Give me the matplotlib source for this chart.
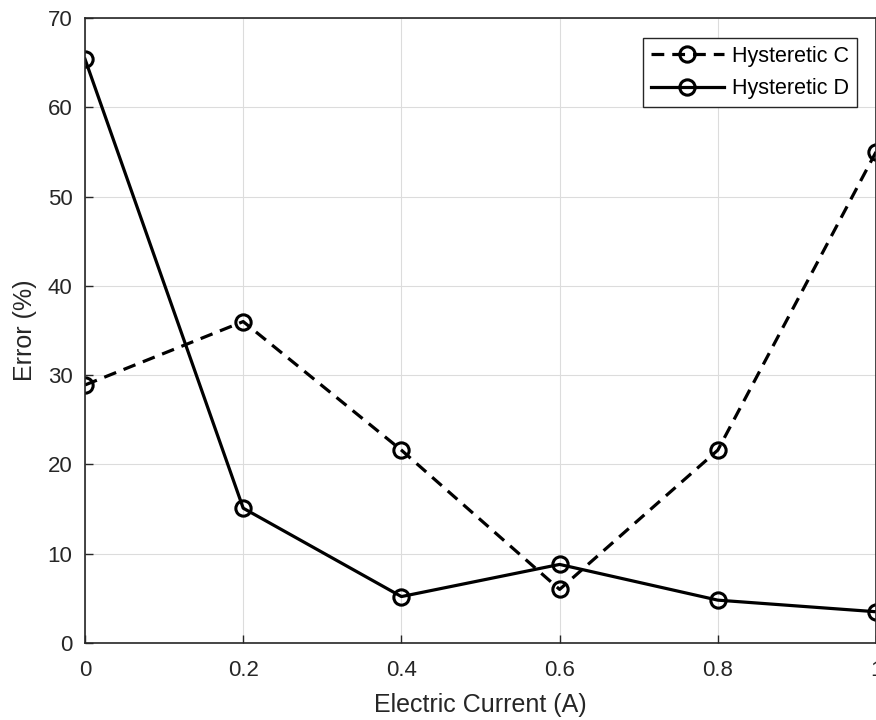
import matplotlib
matplotlib.use("Agg")
import matplotlib.pyplot as plt

plt.rcParams['font.family'] = ['Liberation Sans', 'DejaVu Sans']

current = [0, 0.2, 0.4, 0.6, 0.8, 1.0]
hyst_c = [28.9, 36.0, 21.6, 6.0, 21.6, 55.0]
hyst_d = [65.4, 15.1, 5.2, 8.8, 4.8, 3.5]

fig = plt.figure(figsize=(8.76, 7.2), dpi=100)
ax = fig.add_axes([85 / 876, 1 - 643 / 720, 1 - 85 / 876, (643 - 18) / 720])

mk = dict(marker='o', markersize=11, markerfacecolor='none',
          markeredgewidth=2.2, color='black', linewidth=2.3)
ax.plot(current, hyst_c, linestyle=(0, (4, 2.5)), label='Hysteretic C', **mk)
ax.plot(current, hyst_d, linestyle='-', label='Hysteretic D', **mk)

ax.set_xlim(0, 1)
ax.set_ylim(0, 70)
ax.set_xticks([0, 0.2, 0.4, 0.6, 0.8, 1])
ax.set_xticklabels(['0', '0.2', '0.4', '0.6', '0.8', '1'])
ax.set_yticks(range(0, 71, 10))
ax.grid(True, color='#dcdcdc', linewidth=0.8)
ax.set_axisbelow(True)
ax.tick_params(direction='in', length=6, width=1, labelsize=16, colors='#262626')
ax.tick_params(axis='x', pad=12)
ax.tick_params(axis='y', pad=9)
for s in ax.spines.values():
    s.set_color('#262626')
    s.set_linewidth(1.2)
ax.set_xlabel('Electric Current (A)', fontsize=18, color='#262626', labelpad=9)
ax.set_ylabel('Error (%)', fontsize=18, color='#262626', labelpad=8)

# legend box: right edge ~x=857px, top ~y=38px
leg = ax.legend(loc='upper right', bbox_to_anchor=((857 - 85) / 791, 1 - 20 / 625),
                fontsize=15.5, fancybox=False, framealpha=1, edgecolor='#262626',
                handlelength=3.4, borderpad=0.35, labelspacing=0.55,
                handletextpad=0.4, borderaxespad=0)
leg.get_frame().set_linewidth(1.0)

fig.savefig('out.png', dpi=100)
